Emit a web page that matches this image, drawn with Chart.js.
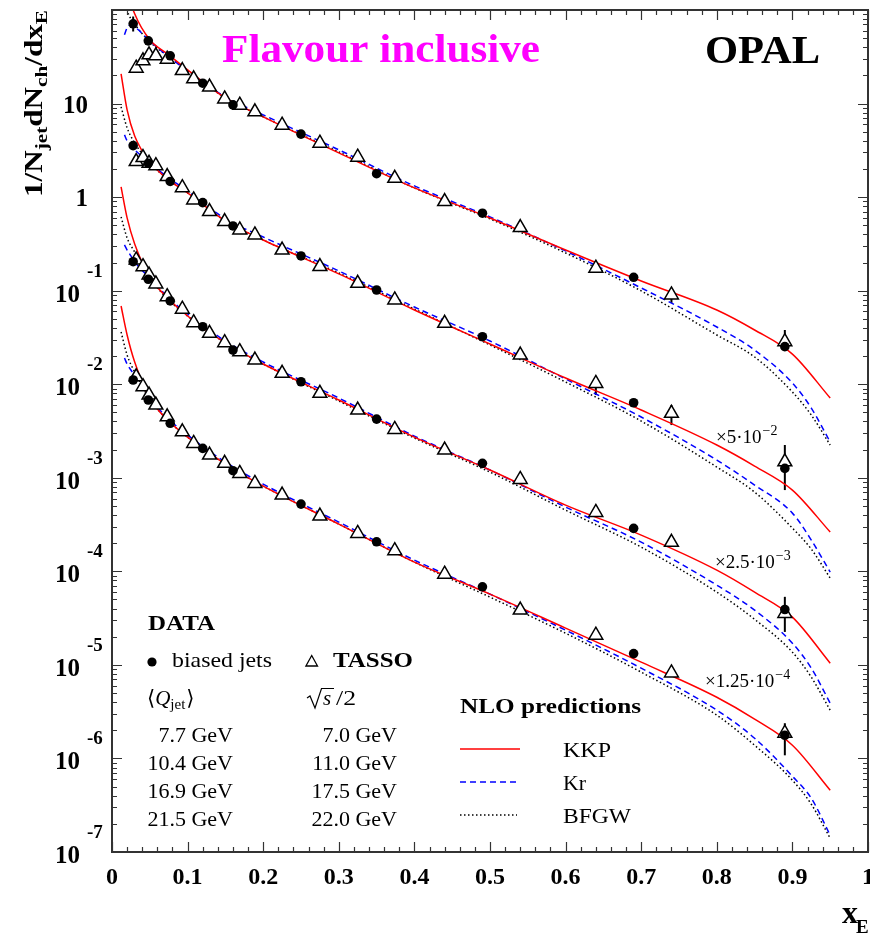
<!DOCTYPE html>
<html><head><meta charset="utf-8">
<script src="https://cdn.jsdelivr.net/npm/chart.js@4"></script>
<style>html,body{margin:0;padding:0;background:#fff;}canvas{display:block;}</style>
</head><body>
<canvas id="c" width="870" height="936"></canvas>
<script>
// ---------- data ----------
const dotX = [0.028,0.048,0.077,0.12,0.16,0.25,0.35,0.49,0.69,0.89];
const triX = [0.032,0.041,0.049,0.058,0.073,0.093,0.108,0.129,0.149,0.169,0.189,0.225,0.275,0.325,0.374,0.44,0.54,0.64,0.74,0.89];

const set1Dots = [71.2,46.8,32.4,16.5,9.68,4.71,1.78,0.673,0.139,0.0252];
const set1Tri  = [23.9,28.6,33.2,32.4,29.8,22.5,18.4,15.0,11.2,9.61,8.15,5.87,3.77,2.67,1.59,0.895,0.472,0.174,0.0899,0.0285];
const set2Dots = [3.55,2.30,1.47,0.873,0.492,0.235,0.1017,0.0322,0.00634,0.00126];
const set2Tri  = [2.40,2.65,2.30,2.17,1.66,1.26,0.934,0.700,0.547,0.446,0.394,0.272,0.181,0.120,0.0795,0.0448,0.0205,0.0102,0.00488,0.00148];
const set3Dots = [0.204,0.1324,0.0776,0.0412,0.0232,0.01063,0.00424,0.001426,0.000288,3.91e-5];
const set3Tri  = [0.213,0.1806,0.147,0.118,0.0863,0.0633,0.0455,0.0350,0.0278,0.0223,0.01815,0.01308,0.0080,0.0053,0.00329,0.00198,0.000961,0.000426,0.000204,3.55e-5];
const set4Dots = [0.01109,0.00678,0.00382,0.00206,0.00119,0.000523,0.000207,6.83e-5,1.32e-5,1.77e-6];
const set4Tri  = [0.0120,0.0094,0.00766,0.00599,0.00449,0.0031,0.00233,0.00175,0.001426,0.001114,0.000871,0.000653,0.00039,0.000254,0.000166,9.33e-5,3.85e-5,2.08e-5,8.21e-6,1.86e-6];

const errX  = [0.028,0.89,0.74,0.89,0.64,0.74,0.89,0.89];
const errLo = [58.9,0.0233,0.0739,0.000739,0.00766,0.00366,2.25e-5,1.08e-6];
const errHi = [85.2,0.038,0.1017,0.00224,0.0117,0.00599,5.34e-5,2.38e-6];

const kkpX = [0.012,0.02,0.03,0.05,0.075,0.1,0.15,0.2,0.3,0.4,0.5,0.6,0.7,0.8,0.85,0.9,0.95];
const kkp1 = [400,164,91,48,33.2,22.9,11.5,7.21,2.97,1.254,0.599,0.272,0.127,0.0622,0.038,0.0210,0.00712];
const kkp2 = [20.8,8.56,4.51,2.38,1.53,1.109,0.556,0.348,0.151,0.0622,0.0269,0.01165,0.0053,0.00224,0.001334,0.000739,0.000263];
const kkp3 = [1.285,0.599,0.316,0.140,0.0815,0.0536,0.0276,0.01644,0.00678,0.00272,0.00121,0.00051,0.000244,0.000103,5.99e-5,3.24e-5,1.043e-5];
const kkp4 = [0.0686,0.0336,0.01728,0.00712,0.00404,0.00272,0.0014,0.000815,0.00032,0.0001254,5.70e-5,2.47e-5,1.069e-5,4.51e-6,2.63e-6,1.384e-6,4.57e-7];

const krX = [0.0165,0.02,0.025,0.03,0.05,0.075,0.1,0.15,0.2,0.3,0.4,0.5,0.6,0.7,0.8,0.85,0.9,0.925,0.95];
const kr1 = [54.3,64.5,69.4,66.1,46.8,31.6,22.4,11.8,7.57,3.20,1.318,0.614,0.266,0.1069,0.0409,0.0232,0.0103,0.00556,0.00241];
const kr2 = [4.63,3.99,3.53,3.20,2.32,1.604,1.165,0.585,0.375,0.1624,0.0669,0.02897,0.01137,0.00446,0.001546,0.000836,0.000419,0.000216,9.80e-5];
const kr3 = [0.308,0.272,0.235,0.2028,0.1367,0.0835,0.0563,0.02897,0.01728,0.00712,0.00279,0.00121,0.000486,0.000205,7.12e-5,3.85e-5,1.707e-5,9.22e-6,3.90e-6];
const kr4 = [0.01906,0.01644,0.01419,0.01254,0.00712,0.00424,0.00286,0.001472,0.000856,0.000336,0.0001318,5.70e-5,2.35e-5,9.22e-6,3.28e-6,1.644e-6,6.45e-7,3.75e-7,1.51e-7];

const bfgwX = [0.012,0.02,0.03,0.05,0.075,0.1,0.15,0.2,0.3,0.4,0.5,0.6,0.7,0.8,0.85,0.9,0.925,0.95];
const bfgw1 = [200,99.5,71.2,45.7,31.6,22.4,11.5,7.21,3.04,1.254,0.585,0.253,0.0993,0.0336,0.01954,0.00825,0.00468,0.00224];
const bfgw2 = [9.22,5.50,3.80,2.32,1.53,1.109,0.556,0.348,0.1546,0.0637,0.02626,0.01056,0.00404,0.001302,0.000703,0.00029,0.0001728,8.46e-5];
const bfgw3 = [0.614,0.366,0.2594,0.1367,0.0795,0.0536,0.0276,0.01644,0.00661,0.00266,0.00115,0.000451,0.0001815,5.99e-5,3.07e-5,1.367e-5,7.39e-6,3.28e-6];
const bfgw4 = [0.0362,0.0205,0.0135,0.00695,0.00404,0.00272,0.0014,0.000815,0.00032,0.0001254,5.30e-5,2.18e-5,8.36e-6,2.90e-6,1.384e-6,5.85e-7,3.24e-7,1.40e-7];

const xTickVals = [0,0.1,0.2,0.3,0.4,0.5,0.6,0.7,0.8,0.9,1];
const xTickLabels = ['0','0.1','0.2','0.3','0.4','0.5','0.6','0.7','0.8','0.9','1'];
const yTickVals = [10,1,0.1,0.01,1e-3,1e-4,1e-5,1e-6,1e-7];
const yTickBase = ['10','1','10','10','10','10','10','10','10'];
const yTickExp  = ['','','-1','-2','-3','-4','-5','-6','-7'];

const scaleLabels = ['×5·10','×2.5·10','×1.25·10'];
const scaleExps = ['−2','−3','−4'];
const qjet = ['7.7 GeV','10.4 GeV','16.9 GeV','21.5 GeV'];
const rootS = ['7.0 GeV','11.0 GeV','17.5 GeV','22.0 GeV'];

// ---------- build ----------
const SERIF = '"Liberation Serif","Times New Roman",serif';
const pts = (xs, ys) => xs.map((x, i) => ({x: x, y: ys[i]}));

const datasets = [];
[[set1Dots,set1Tri],[set2Dots,set2Tri],[set3Dots,set3Tri],[set4Dots,set4Tri]].forEach(([d,t]) => {
  datasets.push({data: pts(dotX, d), pointStyle: 'circle', pointRadius: 4.8, backgroundColor: '#000', borderColor: '#000', borderWidth: 0, showLine: false});
  datasets.push({data: pts(triX, t), pointStyle: 'triangle', pointRadius: 8, backgroundColor: '#fff', borderColor: '#000', borderWidth: 1.5, showLine: false});
});
const curve = (xs, ys, color, dash) => ({data: pts(xs, ys), showLine: true, pointRadius: 0, borderColor: color, borderWidth: 1.5, borderDash: dash, cubicInterpolationMode: 'monotone', fill: false});
[kkp1,kkp2,kkp3,kkp4].forEach(a => datasets.push(curve(kkpX, a, '#ff0000', [])));
[kr1,kr2,kr3,kr4].forEach(a => datasets.push(curve(krX, a, '#0000ff', [6,4])));
[bfgw1,bfgw2,bfgw3,bfgw4].forEach(a => datasets.push(curve(bfgwX, a, '#000000', [1.5,2.5])));

function fitText(ctx, s, x, y, font, w, color) {
  ctx.save();
  ctx.font = font;
  const m = ctx.measureText(s).width;
  ctx.translate(x, y);
  if (w) ctx.scale(w / m, 1);
  ctx.fillStyle = color || '#000';
  ctx.textBaseline = 'alphabetic';
  ctx.textAlign = 'left';
  ctx.fillText(s, 0, 0);
  ctx.restore();
  return w || m;
}
function text(ctx, s, x, y, font, align, base) {
  ctx.save();
  ctx.font = font; ctx.fillStyle = '#000';
  ctx.textAlign = align || 'left'; ctx.textBaseline = base || 'alphabetic';
  ctx.fillText(s, x, y);
  const w = ctx.measureText(s).width;
  ctx.restore();
  return w;
}

const decor = {
  id: 'decor',
  beforeDatasetsDraw(chart) {
    const ctx = chart.ctx, xs = chart.scales.x, ys = chart.scales.y;
    ctx.save(); ctx.strokeStyle = '#000'; ctx.lineWidth = 2;
    for (let i = 0; i < errX.length; i++) {
      const px = xs.getPixelForValue(errX[i]);
      ctx.beginPath();
      ctx.moveTo(px, ys.getPixelForValue(errLo[i]));
      ctx.lineTo(px, ys.getPixelForValue(errHi[i]));
      ctx.stroke();
    }
    ctx.restore();
  },
  afterDraw(chart) {
    const ctx = chart.ctx, xs = chart.scales.x, ys = chart.scales.y;
    const {left, right, top, bottom} = chart.chartArea;
    ctx.save();
    ctx.strokeStyle = '#333'; ctx.lineWidth = 2;
    ctx.strokeRect(left, top, right - left, bottom - top);
    ctx.lineWidth = 1.2;
    ctx.beginPath();
    for (let i = 0; i <= 50; i++) {
      const px = Math.round(xs.getPixelForValue(i * 0.02)) + 0.5;
      const len = (i % 5 === 0) ? 10 : 5;
      ctx.moveTo(px, bottom); ctx.lineTo(px, bottom - len);
      ctx.moveTo(px, top); ctx.lineTo(px, top + len);
    }
    for (let d = -7; d <= 1; d++) {
      for (let m = 1; m <= 9; m++) {
        const v = m * Math.pow(10, d);
        const py = Math.round(ys.getPixelForValue(v)) + 0.5;
        const len = m === 1 ? 10 : 5;
        ctx.moveTo(left, py); ctx.lineTo(left + len, py);
        ctx.moveTo(right, py); ctx.lineTo(right - len, py);
      }
    }
    ctx.stroke();
    ctx.restore();

    // x tick labels
    xTickVals.forEach((v, i) => text(ctx, xTickLabels[i], xs.getPixelForValue(v), 884, 'bold 24px ' + SERIF, 'center'));
    // y tick labels
    yTickVals.forEach((v, i) => {
      const py = ys.getPixelForValue(v);
      if (yTickExp[i] === '') {
        text(ctx, yTickBase[i], 88, py + 9, 'bold 25px ' + SERIF, 'right');
      } else {
        text(ctx, yTickBase[i], 80, py + 11, 'bold 25px ' + SERIF, 'right');
        text(ctx, yTickExp[i], 87, py - 14, 'bold 19px ' + SERIF, 'left');
      }
    });

    // y axis title
    ctx.save();
    ctx.translate(42, 197);
    ctx.rotate(-Math.PI / 2);
    const runs = [['1/N', 0], ['jet', 1], ['dN', 0], ['ch', 1], ['/dx', 0], ['E', 1]];
    const fMain = 'bold 25px ' + SERIF, fSub = 'bold 17px ' + SERIF;
    let tot = 0;
    runs.forEach(r => { ctx.font = r[1] ? fSub : fMain; tot += ctx.measureText(r[0]).width; });
    ctx.scale(187 / tot, 1);
    let cx = 0;
    ctx.fillStyle = '#000'; ctx.textBaseline = 'alphabetic';
    runs.forEach(r => { ctx.font = r[1] ? fSub : fMain; ctx.fillText(r[0], cx, r[1] ? 5 : 0); cx += ctx.measureText(r[0]).width; });
    ctx.restore();

    // x axis title
    text(ctx, 'x', 842, 923, 'bold 32px ' + SERIF);
    text(ctx, 'E', 856, 933, 'bold 19px ' + SERIF);

    // titles
    fitText(ctx, 'Flavour inclusive', 222, 62, 'bold 40px ' + SERIF, 318, '#ff00ff');
    fitText(ctx, 'OPAL', 705, 63, 'bold 39px ' + SERIF, 115);

    // scale factor labels
    const sl = [[716, 443], [715, 568], [705, 687]];
    sl.forEach((p, i) => {
      const w = text(ctx, scaleLabels[i], p[0], p[1], '19px ' + SERIF);
      text(ctx, scaleExps[i], p[0] + w + 1, p[1] - 8, '14px ' + SERIF);
    });

    // data legend
    fitText(ctx, 'DATA', 148, 630, 'bold 21px ' + SERIF, 67);
    ctx.save(); ctx.fillStyle = '#000'; ctx.beginPath(); ctx.arc(152, 662, 4.6, 0, Math.PI * 2); ctx.fill(); ctx.restore();
    fitText(ctx, 'biased jets', 172, 667, '21px ' + SERIF, 100);
    ctx.save(); ctx.strokeStyle = '#000'; ctx.lineWidth = 1.3; ctx.beginPath();
    ctx.moveTo(311.7, 655.5); ctx.lineTo(317.5, 666); ctx.lineTo(305.9, 666); ctx.closePath(); ctx.stroke(); ctx.restore();
    fitText(ctx, 'TASSO', 333, 667, 'bold 21px ' + SERIF, 80);

    // <Q_jet>
    let x0 = 147;
    x0 += text(ctx, '⟨', x0, 705, '21px "DejaVu Serif",' + SERIF);
    x0 += text(ctx, 'Q', x0, 705, 'italic 21px ' + SERIF);
    x0 += text(ctx, 'jet', x0, 709, '15px ' + SERIF);
    text(ctx, '⟩', x0 + 1, 705, '21px "DejaVu Serif",' + SERIF);
    // sqrt(s)/2
    ctx.save(); ctx.strokeStyle = '#000'; ctx.lineWidth = 1.2; ctx.beginPath();
    ctx.moveTo(307, 698); ctx.lineTo(310, 696); ctx.lineTo(315, 708); ctx.lineTo(321.5, 688.5); ctx.lineTo(334, 688.5);
    ctx.stroke(); ctx.restore();
    text(ctx, 's', 323, 705, 'italic 21px ' + SERIF);
    fitText(ctx, '/2', 336, 705, '21px ' + SERIF, 20);

    const rowsY = [742, 770, 798, 826];
    rowsY.forEach((y, i) => {
      text(ctx, qjet[i], 233, y, '22px ' + SERIF, 'right');
      text(ctx, rootS[i], 397, y, '22px ' + SERIF, 'right');
    });

    // NLO legend
    fitText(ctx, 'NLO predictions', 460, 713, 'bold 21px ' + SERIF, 181);
    const legY = [749, 782, 815];
    const legC = ['#ff0000', '#0000ff', '#000000'];
    const legD = [[], [6, 4], [1.5, 2.5]];
    const legT = ['KKP', 'Kr', 'BFGW'];
    const legW = [48, 23, 68];
    legY.forEach((y, i) => {
      ctx.save(); ctx.strokeStyle = legC[i]; ctx.lineWidth = 1.5; ctx.setLineDash(legD[i]);
      ctx.beginPath(); ctx.moveTo(460, y); ctx.lineTo(i === 0 ? 520 : 517, y); ctx.stroke(); ctx.restore();
      fitText(ctx, legT[i], 563, y + 8, '21px ' + SERIF, legW[i]);
    });
  }
};

new Chart(document.getElementById('c'), {
  type: 'scatter',
  data: {datasets: datasets},
  options: {
    responsive: false,
    animation: false,
    devicePixelRatio: 1,
    layout: {autoPadding: false, padding: {left: 112, right: 2, top: 10, bottom: 84}},
    plugins: {legend: {display: false}, tooltip: {enabled: false}},
    scales: {
      x: {type: 'linear', min: 0, max: 1, display: false},
      y: {type: 'logarithmic', min: 1e-7, max: 100, display: false}
    }
  },
  plugins: [decor]
});
</script>
</body></html>
